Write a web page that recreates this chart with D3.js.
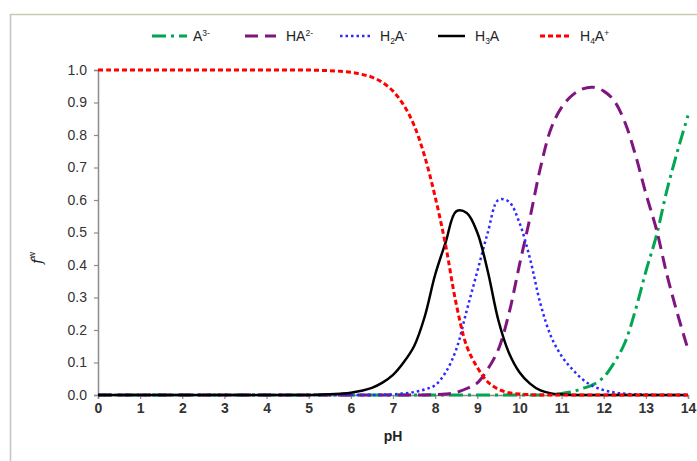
<!DOCTYPE html>
<html>
<head>
<meta charset="utf-8">
<script src="https://cdn.jsdelivr.net/npm/d3@7"></script>
<style>
  body { margin: 0; background: #fff; }
  svg { display: block; font-family: "Liberation Sans", Arial, sans-serif; }
</style>
</head>
<body>
<div class="chart"></div>
<script>
// pH grid, 0.25 steps
const pH = d3.range(0, 14.001, 0.25);

// fractions, one value per pH step
const A3 = [0,0,0,0,0,0,0,0,0,0,0,0,0,0,0,0,0,0,0,0,0,0,0,0,0,0,0,0,0,0,0,0,0,0,0,0,0,0,0,0,0,0,0,0.002,0.005,0.01,0.02,0.032,0.055,0.1,0.16,0.26,0.38,0.49,0.63,0.75,0.86];
const HA2 = [0,0,0,0,0,0,0,0,0,0,0,0,0,0,0,0,0,0,0,0,0,0,0,0,0,0,0,0,0,0,0,0,0.001,0.003,0.008,0.02,0.037,0.08,0.14,0.25,0.4,0.545,0.7,0.82,0.885,0.922,0.942,0.947,0.935,0.905,0.84,0.74,0.62,0.51,0.37,0.25,0.14];
const H2A = [0,0,0,0,0,0,0,0,0,0,0,0,0,0,0,0,0,0,0,0,0,0,0,0,0,0,0,0.001,0.002,0.005,0.009,0.017,0.03,0.07,0.14,0.26,0.38,0.5,0.6,0.595,0.53,0.42,0.28,0.18,0.12,0.08,0.048,0.027,0.015,0.008,0.004,0.002,0.001,0,0,0,0];
const H3A = [0,0,0,0,0,0,0,0,0,0,0,0,0,0,0,0,0,0,0,0,0,0.001,0.002,0.004,0.007,0.013,0.022,0.038,0.062,0.1,0.15,0.24,0.37,0.47,0.565,0.56,0.5,0.38,0.23,0.13,0.07,0.035,0.014,0.005,0.002,0,0,0,0,0,0,0,0,0,0,0,0];
const H4A = [1,1,1,1,1,1,1,1,1,1,1,1,1,1,1,1,1,1,1,1,1,0.999,0.998,0.996,0.993,0.987,0.978,0.962,0.935,0.893,0.83,0.735,0.61,0.46,0.28,0.15,0.085,0.04,0.018,0.007,0.003,0.001,0,0,0,0,0,0,0,0,0,0,0,0,0,0,0];

const xTicks = d3.range(0, 15, 1);
const yTicks = d3.range(0, 1.01, 0.1);

const series = [
  {name: "A3", vals: A3, color: "#00a651", width: 3, dash: "14,5,3,5"},
  {name: "HA2", vals: HA2, color: "#7f157f", width: 3, dash: "13,7"},
  {name: "H2A", vals: H2A, color: "#2b2bff", width: 2.5, dash: "2.5,3"},
  {name: "H3A", vals: H3A, color: "#000000", width: 2.5, dash: null},
  {name: "H4A", vals: H4A, color: "#ff0000", width: 3, dash: "5,3"}
];

const W = 697, H = 461;
const margin = {top: 70, right: 9, bottom: 66, left: 98};

const svg = d3.select(".chart").append("svg")
  .attr("width", W).attr("height", H);

// outer frame (only the top and left edges are visible)
svg.append("line").attr("x1", 10).attr("x2", W).attr("y1", 14.5).attr("y2", 14.5)
  .attr("stroke", "#c9cbb0").attr("stroke-width", 1.5);
svg.append("line").attr("x1", 10.5).attr("x2", 10.5).attr("y1", 14).attr("y2", H)
  .attr("stroke", "#c4c4c4").attr("stroke-width", 1.5);

const x = d3.scaleLinear().domain([0, 14]).range([margin.left, W - margin.right]);
const y = d3.scaleLinear().domain([0, 1]).range([H - margin.bottom, margin.top]);

const xAxis = d3.axisBottom(x).tickValues(xTicks).tickFormat(d3.format("d")).tickSize(4).tickPadding(4);
const yAxis = d3.axisLeft(y).tickValues(yTicks).tickFormat(d3.format(".1f")).tickSize(4).tickPadding(7);

const gx = svg.append("g")
  .attr("transform", `translate(0,${y(0)})`)
  .call(xAxis);
gx.selectAll("text").attr("font-size", 14).attr("font-weight", "bold").attr("fill", "#333");

const gy = svg.append("g")
  .attr("transform", `translate(${x(0)},0)`)
  .call(yAxis);
gy.selectAll("text").attr("font-size", 14).attr("fill", "#333");

svg.selectAll(".domain").attr("stroke", "#8c8c8c").attr("stroke-width", 1.5);
svg.selectAll(".tick line").attr("stroke", "#8c8c8c").attr("stroke-width", 1.2);

// axis titles
svg.append("text")
  .attr("x", x(7)).attr("y", 441)
  .attr("text-anchor", "middle")
  .attr("font-size", 14).attr("font-weight", "bold").attr("fill", "#222")
  .text("pH");

const yt = svg.append("text")
  .attr("transform", "translate(42,258) rotate(-90)")
  .attr("text-anchor", "middle")
  .attr("font-size", 15).attr("fill", "#222");
yt.append("tspan").attr("font-style", "italic").attr("font-family", "DejaVu Serif, serif").text("f");
yt.append("tspan").attr("font-size", 9).attr("dy", -7).text("w");

// curves
const line = d3.line()
  .x((d, i) => x(pH[i]))
  .y(d => y(d))
  .curve(d3.curveCatmullRom.alpha(0.5));

svg.append("g").selectAll("path")
  .data(series)
  .join("path")
  .attr("d", d => line(d.vals))
  .attr("fill", "none")
  .attr("stroke", d => d.color)
  .attr("stroke-width", d => d.width)
  .attr("stroke-dasharray", d => d.dash);

// legend
const legend = [
  {s: series[0], x0: 152, x1: 187, tx: 193, parts: [["A", 0], ["3-", -1]]},
  {s: series[1], x0: 245, x1: 276, tx: 286, parts: [["HA", 0], ["2-", -1]]},
  {s: series[2], x0: 340, x1: 372, tx: 380, parts: [["H", 0], ["2", 1], ["A", 0], ["-", -1]]},
  {s: series[3], x0: 438, x1: 465, tx: 475, parts: [["H", 0], ["3", 1], ["A", 0]]},
  {s: series[4], x0: 540, x1: 572, tx: 580, parts: [["H", 0], ["4", 1], ["A", 0], ["+", -1]]}
];
const ly = 36;
const lg = svg.append("g");
legend.forEach(l => {
  lg.append("line")
    .attr("x1", l.x0).attr("x2", l.x1).attr("y1", ly).attr("y2", ly)
    .attr("stroke", l.s.color).attr("stroke-width", l.s.width)
    .attr("stroke-dasharray", l.s.dash);
  const t = lg.append("text").attr("x", l.tx).attr("y", ly + 5)
    .attr("font-size", 14).attr("fill", "#222");
  let prev = 0;
  l.parts.forEach(([str, pos]) => {
    const shift = pos === -1 ? -5 : pos === 1 ? 3 : 0;
    t.append("tspan")
      .attr("dy", shift - prev)
      .attr("font-size", pos === 0 ? 14 : 8.5)
      .text(str);
    prev = shift;
  });
});
</script>
</body>
</html>
